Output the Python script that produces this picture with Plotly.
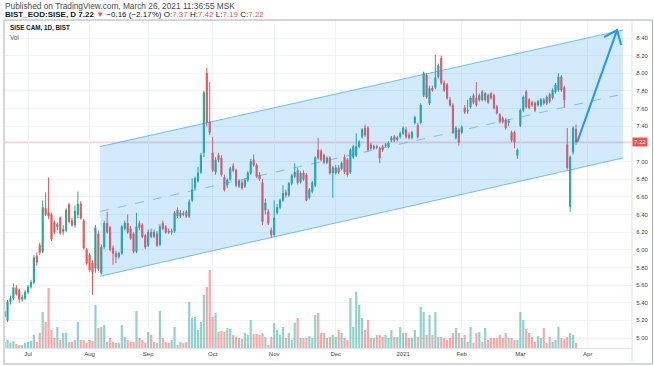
import pandas as pd
import plotly.graph_objects as go

# ---------------- data ----------------
HOLIDAYS = ["2020-07-15", "2020-07-31", "2020-08-03", "2020-10-29", "2021-01-01"]

OPEN = [
    5.24, 5.20, 5.41, 5.45, 5.57, 5.54, 5.44, 5.45, 5.52, 5.58,
    5.63, 5.93, 6.05, 5.98, 6.47, 6.42, 6.40, 6.31, 6.26, 6.36,
    6.21, 6.22, 6.51, 6.33, 6.28, 6.40, 6.52, 6.33, 6.00, 5.94,
    5.85, 5.79, 6.18, 5.74, 6.03, 6.30, 6.25, 6.02, 5.96, 5.92,
    5.96, 6.24, 6.30, 6.24, 6.18, 5.98, 6.30, 6.28, 6.16, 6.05,
    6.20, 6.15, 6.18, 6.06, 6.30, 6.26, 6.21, 6.20, 6.21, 6.45,
    6.38, 6.41, 6.43, 6.38, 6.56, 6.70, 6.78, 6.88, 7.10, 8.00,
    7.45, 7.10, 6.88, 7.07, 7.04, 6.82, 6.73, 6.80, 6.95, 6.90,
    6.72, 6.76, 6.72, 6.79, 6.87, 7.02, 6.96, 6.85, 6.76, 6.45,
    6.43, 6.22, 6.17, 6.42, 6.48, 6.56, 6.65, 6.62, 6.75, 6.83,
    6.90, 6.77, 6.87, 6.85, 6.59, 6.66, 6.73, 7.13, 7.12, 7.07,
    6.99, 7.04, 6.87, 6.87, 6.93, 6.92, 7.05, 7.02, 6.88, 7.05,
    7.07, 7.17, 7.28, 7.38, 7.38, 7.19, 7.15, 7.17, 7.15, 7.17,
    7.18, 7.17, 7.24, 7.28, 7.25, 7.28, 7.32, 7.36, 7.30, 7.27,
    7.44, 7.41, 7.44, 7.75, 7.98, 7.66, 7.83, 7.84, 7.96, 8.17,
    7.89, 7.87, 7.70, 7.64, 7.27, 7.36, 7.33, 7.61, 7.57, 7.62,
    7.75, 7.72, 7.70, 7.79, 7.70, 7.75, 7.77, 7.75, 7.62, 7.53,
    7.49, 7.47, 7.44, 7.33, 7.33, 7.07, 7.41, 7.58, 7.79, 7.70,
    7.67, 7.66, 7.64, 7.64, 7.70, 7.66, 7.76, 7.72, 7.79, 7.81,
    7.96, 7.84, 7.19, 6.49, 7.11, 7.37,
]
HIGH = [
    5.35, 5.43, 5.48, 5.62, 5.60, 5.56, 5.49, 5.54, 5.60, 5.66,
    5.94, 5.97, 6.08, 6.56, 6.65, 6.82, 6.42, 6.33, 6.31, 6.38,
    6.28, 6.47, 6.53, 6.36, 6.50, 6.66, 6.55, 6.35, 6.02, 5.96,
    5.88, 6.28, 6.22, 6.06, 6.33, 6.43, 6.27, 6.05, 5.99, 5.98,
    6.28, 6.33, 6.40, 6.27, 6.20, 6.42, 6.33, 6.30, 6.18, 6.23,
    6.24, 6.23, 6.21, 6.29, 6.33, 6.28, 6.24, 6.24, 6.44, 6.48,
    6.45, 6.44, 6.45, 6.57, 6.81, 6.83, 6.94, 7.10, 7.80, 8.06,
    7.90, 7.28, 7.05, 7.10, 7.07, 6.85, 6.81, 6.94, 6.98, 6.92,
    6.80, 6.79, 6.81, 6.89, 7.03, 7.08, 6.98, 6.88, 6.80, 6.58,
    6.46, 6.25, 6.56, 6.52, 6.58, 6.73, 6.68, 6.77, 6.86, 6.98,
    6.93, 6.89, 6.90, 6.87, 6.70, 6.78, 7.06, 7.27, 7.14, 7.09,
    7.06, 7.06, 6.95, 6.96, 6.96, 7.00, 7.08, 7.04, 7.15, 7.19,
    7.32, 7.24, 7.38, 7.42, 7.40, 7.21, 7.19, 7.19, 7.17, 7.19,
    7.21, 7.23, 7.29, 7.30, 7.29, 7.34, 7.40, 7.39, 7.33, 7.35,
    7.52, 7.44, 7.66, 8.02, 8.00, 7.86, 7.86, 8.21, 8.11, 8.20,
    7.92, 7.89, 7.73, 7.66, 7.40, 7.38, 7.41, 7.64, 7.70, 7.74,
    7.77, 7.90, 7.77, 7.81, 7.79, 7.77, 7.79, 7.77, 7.64, 7.55,
    7.51, 7.49, 7.48, 7.35, 7.35, 7.15, 7.60, 7.75, 7.81, 7.72,
    7.69, 7.68, 7.70, 7.72, 7.72, 7.75, 7.78, 7.83, 7.89, 8.00,
    7.98, 7.86, 7.38, 7.07, 7.40, 7.42,
]
LOW = [
    5.15, 5.18, 5.38, 5.43, 5.48, 5.40, 5.41, 5.43, 5.50, 5.56,
    5.61, 5.82, 5.94, 5.96, 6.38, 6.35, 6.10, 6.18, 6.22, 6.17,
    6.17, 6.20, 6.30, 6.26, 6.25, 6.36, 6.34, 6.00, 5.83, 5.75,
    5.49, 5.74, 5.76, 5.72, 6.01, 6.18, 5.98, 5.83, 5.85, 5.90,
    5.94, 6.22, 6.18, 6.11, 5.96, 5.96, 6.22, 6.13, 6.01, 6.03,
    6.13, 6.13, 6.03, 6.04, 6.22, 6.18, 6.18, 6.17, 6.19, 6.36,
    6.36, 6.38, 6.36, 6.36, 6.54, 6.68, 6.76, 6.86, 7.05, 7.40,
    7.30, 6.88, 6.85, 6.99, 6.83, 6.66, 6.70, 6.78, 6.88, 6.71,
    6.70, 6.68, 6.70, 6.77, 6.85, 6.94, 6.81, 6.78, 6.28, 6.40,
    6.28, 6.14, 6.15, 6.40, 6.46, 6.54, 6.59, 6.60, 6.73, 6.81,
    6.74, 6.75, 6.78, 6.55, 6.57, 6.64, 6.71, 7.02, 7.00, 6.97,
    6.97, 6.85, 6.59, 6.85, 6.86, 6.90, 6.86, 6.83, 6.86, 7.03,
    7.05, 7.15, 7.26, 7.28, 7.11, 7.13, 7.13, 7.14, 6.98, 7.11,
    7.16, 7.15, 7.22, 7.22, 7.23, 7.26, 7.30, 7.26, 7.25, 7.25,
    7.42, 7.26, 7.42, 7.73, 7.71, 7.64, 7.79, 7.82, 7.94, 7.87,
    7.79, 7.70, 7.62, 7.31, 7.25, 7.18, 7.31, 7.54, 7.54, 7.60,
    7.65, 7.62, 7.68, 7.68, 7.68, 7.65, 7.70, 7.59, 7.53, 7.43,
    7.43, 7.36, 7.40, 7.22, 7.15, 7.03, 7.39, 7.56, 7.60, 7.59,
    7.62, 7.56, 7.62, 7.62, 7.64, 7.64, 7.66, 7.70, 7.77, 7.79,
    7.79, 7.61, 6.91, 6.43, 7.08, 7.19,
]
CLOSE = [
    5.30, 5.41, 5.45, 5.57, 5.50, 5.44, 5.46, 5.52, 5.58, 5.63,
    5.91, 5.86, 5.97, 6.48, 6.40, 6.38, 6.12, 6.20, 6.29, 6.19,
    6.23, 6.45, 6.32, 6.28, 6.44, 6.52, 6.36, 6.02, 5.85, 5.77,
    5.75, 6.25, 5.78, 6.03, 6.30, 6.20, 6.00, 5.96, 5.92, 5.96,
    6.26, 6.30, 6.20, 6.13, 5.98, 6.26, 6.25, 6.15, 6.03, 6.20,
    6.15, 6.20, 6.05, 6.26, 6.24, 6.20, 6.20, 6.21, 6.42, 6.38,
    6.42, 6.40, 6.38, 6.54, 6.68, 6.81, 6.87, 7.07, 7.78, 7.44,
    7.33, 6.90, 7.02, 7.02, 6.85, 6.68, 6.79, 6.92, 6.90, 6.73,
    6.78, 6.70, 6.79, 6.87, 7.00, 6.96, 6.83, 6.80, 6.32, 6.53,
    6.30, 6.17, 6.36, 6.48, 6.56, 6.64, 6.62, 6.75, 6.84, 6.88,
    6.76, 6.87, 6.80, 6.56, 6.68, 6.76, 7.04, 7.04, 7.02, 6.99,
    7.04, 6.87, 6.93, 6.93, 6.88, 6.98, 6.88, 6.85, 7.13, 7.17,
    7.17, 7.22, 7.36, 7.30, 7.13, 7.15, 7.17, 7.16, 7.04, 7.13,
    7.19, 7.21, 7.27, 7.24, 7.27, 7.32, 7.38, 7.28, 7.27, 7.33,
    7.50, 7.28, 7.64, 8.00, 7.73, 7.83, 7.81, 7.95, 8.09, 7.89,
    7.81, 7.72, 7.64, 7.33, 7.38, 7.22, 7.39, 7.56, 7.58, 7.72,
    7.67, 7.64, 7.75, 7.70, 7.77, 7.67, 7.72, 7.61, 7.55, 7.45,
    7.45, 7.38, 7.46, 7.24, 7.22, 7.13, 7.58, 7.73, 7.62, 7.61,
    7.64, 7.58, 7.68, 7.70, 7.66, 7.73, 7.68, 7.81, 7.87, 7.96,
    7.81, 7.70, 6.93, 7.05, 7.38, 7.22,
]
VOLUME = [
    6, 8, 5, 7, 4, 3, 3, 5, 6, 7,
    13, 6, 15, 36, 26, 60, 18, 10, 21, 8,
    15, 15, 6, 6, 8, 26, 8, 8, 5, 8,
    7, 43, 20, 21, 23, 6, 10, 6, 5, 5,
    23, 11, 8, 6, 6, 37, 10, 8, 5, 16,
    13, 6, 5, 37, 10, 6, 5, 8, 21, 3,
    6, 5, 6, 46, 30, 31, 18, 26, 53, 61,
    78, 31, 35, 16, 17, 16, 20, 19, 13, 11,
    10, 9, 15, 13, 28, 14, 14, 13, 15, 11,
    3, 11, 25, 18, 13, 21, 10, 15, 8, 25,
    30, 10, 10, 10, 12, 10, 33, 35, 15, 15,
    10, 11, 13, 11, 18, 15, 10, 8, 50, 21,
    56, 43, 30, 18, 28, 10, 10, 13, 13, 11,
    13, 10, 18, 11, 11, 21, 15, 15, 10, 10,
    18, 11, 41, 36, 13, 33, 13, 36, 11, 11,
    10, 8, 10, 15, 20, 15, 10, 13, 6, 21,
    5, 15, 16, 6, 20, 8, 10, 10, 10, 13,
    10, 15, 10, 10, 8, 8, 36, 28, 19, 15,
    11, 6, 12, 10, 20, 5, 11, 6, 8, 21,
    10, 9, 11, 15, 13, 5,
]
LAST_DAY = "2021-03-26"

TICK_DATES = ["2020-07-01", "2020-08-04", "2020-09-01", "2020-10-01", "2020-11-02",
              "2020-12-01", "2021-01-04", "2021-02-01", "2021-03-01", "2021-04-01"]
TICK_TEXT = ["Jul", "Aug", "Sep", "Oct", "Nov", "Dec", "2021", "Feb", "Mar", "Apr"]
PRICE_TICKS = [5.0, 5.2, 5.4, 5.6, 5.8, 6.0, 6.2, 6.4, 6.6, 6.8, 7.0, 7.2, 7.4, 7.6, 7.8, 8.0, 8.2, 8.4]

# parallel channel drawing (anchor time, price)
CH_TIME = ["2020-08-10 02:24", "2021-04-19 12:00"]
CH_UPPER = [7.17, 8.49]
CH_LOWER = [5.70, 7.04]
CH_MID = [6.435, 7.765]

# arrow drawing
ARROW_TIME = ["2021-03-26 21:36", "2021-04-15 12:00"]
ARROW_PRICE = [7.22, 8.49]
WING_TIME = ["2021-04-09 02:24", "2021-04-16 21:36"]
WING_PRICE = [8.41, 8.32]

LAST_PRICE = 7.22
X_RANGE = ["2020-06-19 15:17", "2021-04-22 14:24"]
Y_RANGE = [4.887, 8.604]
VOL_RANGE = [0, 328]

# ---------------- build ----------------
days = pd.bdate_range("2020-06-01", LAST_DAY)
days = [d for d in days if d.strftime("%Y-%m-%d") not in HOLIDAYS]
days = days[-len(CLOSE):]
xdates = [d + pd.Timedelta(hours=12) for d in days]

UP, DOWN = "#26A69A", "#EF5350"
UP_V, DOWN_V = "rgba(38,166,154,0.5)", "rgba(239,83,80,0.5)"
vol_colors = [UP_V if c >= o else DOWN_V for o, c in zip(OPEN, CLOSE)]

FONT = "Liberation Sans, Arial, sans-serif"

fig = go.Figure()

# channel fill
fig.add_trace(go.Scatter(
    x=[CH_TIME[0], CH_TIME[1], CH_TIME[1], CH_TIME[0], CH_TIME[0]],
    y=[CH_UPPER[0], CH_UPPER[1], CH_LOWER[1], CH_LOWER[0], CH_UPPER[0]],
    fill="toself", fillcolor="rgba(33,150,243,0.2)", mode="lines",
    line=dict(width=0), hoverinfo="skip", showlegend=False))

# volume
fig.add_trace(go.Bar(x=xdates, y=VOLUME, marker=dict(color=vol_colors, line=dict(width=0)),
                     yaxis="y2", hoverinfo="skip", showlegend=False))

# candles
fig.add_trace(go.Candlestick(
    x=xdates, open=OPEN, high=HIGH, low=LOW, close=CLOSE,
    increasing=dict(line=dict(color=UP, width=1), fillcolor=UP),
    decreasing=dict(line=dict(color=DOWN, width=1), fillcolor=DOWN),
    whiskerwidth=0, hoverinfo="skip", showlegend=False))

# channel lines
for ys, dash, col in [(CH_UPPER, "solid", "rgba(33,150,243,0.6)"),
                      (CH_LOWER, "solid", "rgba(33,150,243,0.6)"),
                      (CH_MID, "dash", "rgba(33,150,243,0.5)")]:
    fig.add_trace(go.Scatter(x=CH_TIME, y=ys, mode="lines",
                             line=dict(color=col, width=1, dash=dash),
                             hoverinfo="skip", showlegend=False))

# arrow
fig.add_trace(go.Scatter(
    x=[ARROW_TIME[0], ARROW_TIME[1], None, WING_TIME[0], ARROW_TIME[1], WING_TIME[1]],
    y=[ARROW_PRICE[0], ARROW_PRICE[1], None, WING_PRICE[0], ARROW_PRICE[1], WING_PRICE[1]],
    mode="lines", line=dict(color="#2196F3", width=2), hoverinfo="skip", showlegend=False))

W, H = 654, 366
L, R, T, B = 5, 22, 20, 18
pw = W - L - R
ph = H - T - B

# the last-price tag covers the 7.20 label, as in the reference
price_text = ["" if abs(v - LAST_PRICE) < 0.1 else f"{v:.2f}" for v in PRICE_TICKS]

fig.update_layout(
    width=W, height=H,
    margin=dict(l=L, r=R, t=T, b=B, pad=0, autoexpand=False),
    paper_bgcolor="white", plot_bgcolor="white",
    font=dict(family=FONT, size=6, color="#333"),
    showlegend=False, bargap=0.25, boxgap=0.45,
    xaxis=dict(
        type="date", range=X_RANGE,
        rangebreaks=[dict(bounds=["sat", "mon"]), dict(values=HOLIDAYS)],
        rangeslider=dict(visible=False),
        tickvals=[t + " 12:00" for t in TICK_DATES], ticktext=TICK_TEXT,
        showgrid=True, gridcolor="#F0F3FA", gridwidth=1,
        showline=True, linecolor="#E0E3EB", linewidth=1,
        ticks="", tickfont=dict(size=6, color="#444", family=FONT),
        zeroline=False, fixedrange=True, automargin=False),
    yaxis=dict(
        side="right", range=Y_RANGE, tickvals=PRICE_TICKS,
        ticktext=price_text,
        showgrid=True, gridcolor="#F0F3FA", gridwidth=1,
        showline=False,
        ticks="outside", ticklen=2, tickcolor="rgba(0,0,0,0)",
        tickfont=dict(size=6, color="#444", family=FONT),
        zeroline=False, fixedrange=True, automargin=False),
    yaxis2=dict(overlaying="y", range=VOL_RANGE, visible=False, fixedrange=True),
)

# last price line and label
fig.add_shape(type="line", xref="paper", x0=0, x1=1, yref="y", y0=LAST_PRICE, y1=LAST_PRICE,
              line=dict(color="rgba(239,83,80,0.4)", width=1), layer="below")
fig.add_annotation(xref="paper", x=1, xanchor="left", xshift=0, yref="y", y=LAST_PRICE,
                   text=f"{LAST_PRICE:.2f}", showarrow=False, bgcolor="#EF5350",
                   font=dict(color="white", size=6, family=FONT), borderpad=1)

# frame: outer border and price-scale separator
bottom = -(H - 2 - T - ph) / ph
fig.add_shape(type="rect", xref="paper", yref="paper",
              x0=-1 / pw, x1=(W - 1.5 - L) / pw, y0=bottom, y1=1,
              line=dict(color="#A9ACB3", width=1), fillcolor="rgba(0,0,0,0)", layer="above")
fig.add_shape(type="line", xref="paper", yref="paper", x0=1, x1=1,
              y0=bottom, y1=1, line=dict(color="#E0E3EB", width=1))

# header texts
fig.add_annotation(xref="paper", yref="paper", x=0, y=1, xanchor="left", yanchor="middle",
                   xshift=-2, yshift=14.5, showarrow=False,
                   text="Published on TradingView.com, March 26, 2021 11:36:55 MSK",
                   font=dict(size=8.3, color="#4A4A4A", family=FONT))
red = "#EF5350"
hdr = ("<b>BIST_EOD:SISE, D 7.22</b> "
       f"<span style='color:{red}'>▼</span> −0.16 (−2.17%) "
       f"O:<span style='color:{red}'>7.37</span> "
       f"H:<span style='color:{red}'>7.42</span> "
       f"L:<span style='color:{red}'>7.19</span> "
       f"C:<span style='color:{red}'>7.22</span>")
fig.add_annotation(xref="paper", yref="paper", x=0, y=1, xanchor="left", yanchor="middle",
                   xshift=-2, yshift=5.5, showarrow=False, text=hdr,
                   font=dict(size=8.0, color="#131722", family=FONT))
fig.add_annotation(xref="paper", yref="paper", x=0, y=1, xanchor="left", yanchor="middle",
                   xshift=3, yshift=-8, showarrow=False, text="<b>SISE CAM, 1D, BIST</b>",
                   font=dict(size=6.3, color="#131722", family=FONT))
fig.add_annotation(xref="paper", yref="paper", x=0, y=1, xanchor="left", yanchor="middle",
                   xshift=3, yshift=-17, showarrow=False, text="Vol",
                   font=dict(size=6.3, color="#555", family=FONT))

fig.write_html("out.html", config=dict(displayModeBar=False),
               post_script="document.body.style.margin='0px';document.body.style.overflow='hidden';")
